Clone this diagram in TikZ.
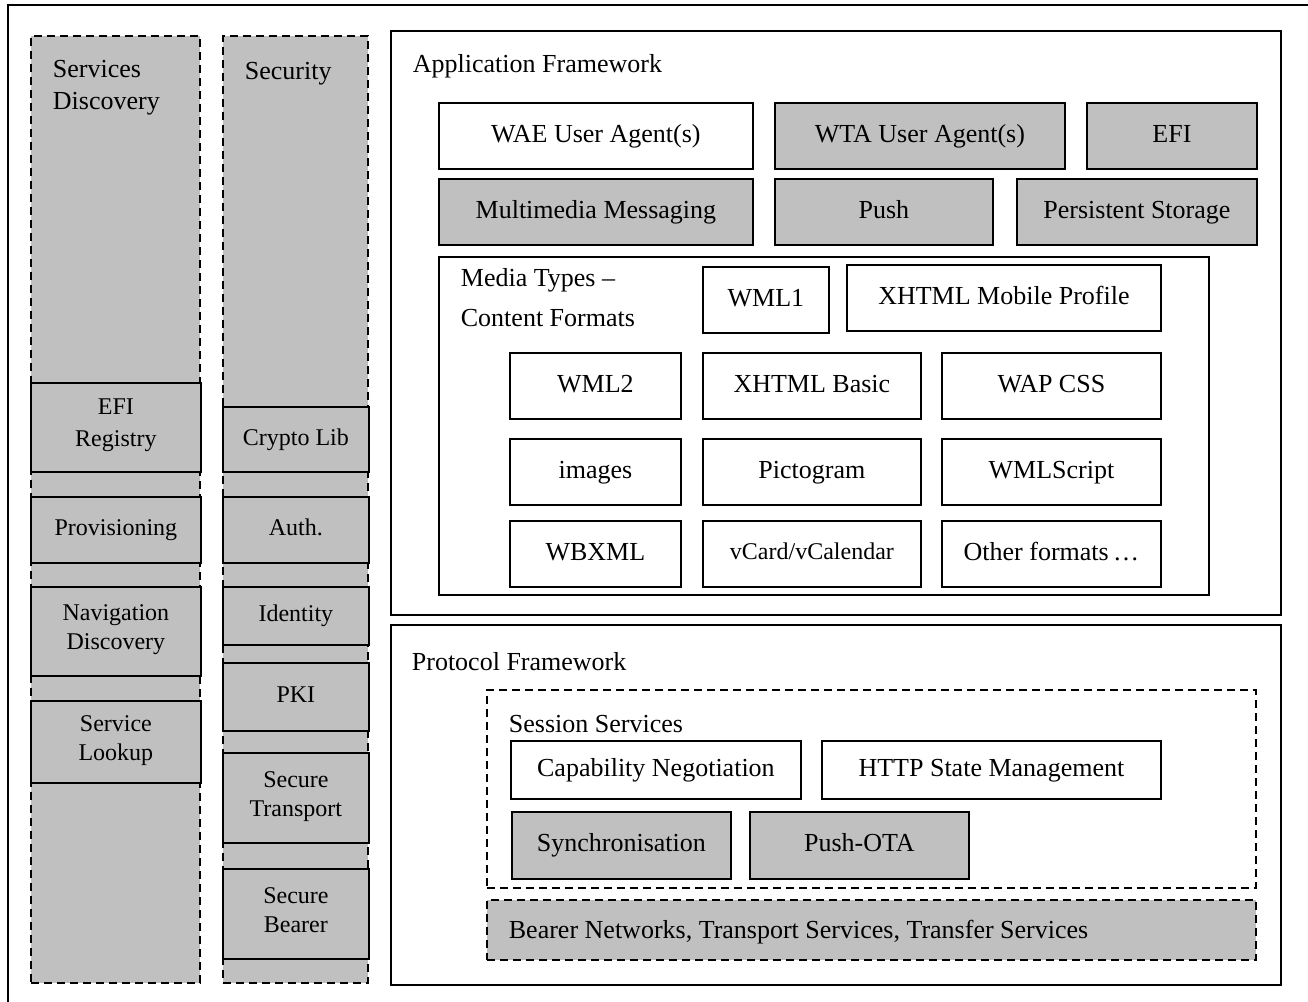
\documentclass[tikz,border=0pt]{standalone}
\usepackage{fontspec}
\setmainfont{Liberation Serif}
\usepackage{tikz}
\definecolor{boxgrey}{RGB}{192,192,192}
\newcommand\bigtxt{\fontsize{26}{32}\selectfont}
\newcommand\smalltxt{\fontsize{24}{29}\selectfont}

\begin{document}
\begin{tikzpicture}[x=1pt, y=-1pt, line width=1.8pt,
		box/.style={draw, anchor=north west, inner sep=0pt, align=center, font=\bigtxt,
			execute at begin node=\strut, execute at end node=\strut},
		grey/.style={fill=boxgrey},
		dashbox/.style={dash pattern=on 8pt off 5pt},
		lbl/.style={anchor=west, inner sep=0pt, align=left, font=\bigtxt}]
			\useasboundingbox (0,0) rectangle (1308,1001);
			\draw (8,5) rectangle (1320,1012);
			% left columns
			\node[box, grey, dashbox, minimum width=169pt, minimum height=947pt] (sdcol) at (30,35) {};
			\node[box, grey, dashbox, minimum width=145pt, minimum height=947pt] (seccol) at (222,35) {};
			\node[lbl] (sdlabel) at (52,88) {Services\\Discovery};
			\node[lbl] (seclabel) at (244,74) {Security};
			\node[box, grey, font=\fontsize{24}{32}\selectfont, minimum width=170pt, minimum height=89pt] (efireg) at (30,382) {EFI\\Registry};
			\node[box, grey, font=\smalltxt, minimum width=170pt, minimum height=66pt] (prov) at (30,496) {Provisioning};
			\node[box, grey, font=\smalltxt, minimum width=170pt, minimum height=89pt] (navdisc) at (30,586) {Navigation\\Discovery};
			\node[box, grey, font=\smalltxt, minimum width=170pt, minimum height=82pt] (svclook) at (30,700) {Service\\Lookup};
			\node[box, grey, font=\smalltxt, minimum width=146pt, minimum height=65pt] (crypto) at (222,406) {Crypto Lib};
			\node[box, grey, font=\smalltxt, minimum width=146pt, minimum height=66pt] (auth) at (222,496) {Auth.};
			\node[box, grey, font=\smalltxt, minimum width=146pt, minimum height=58pt] (ident) at (222,586) {Identity};
			\node[box, grey, font=\smalltxt, minimum width=146pt, minimum height=68pt] (pki) at (222,662) {PKI};
			\node[box, grey, font=\smalltxt, minimum width=146pt, minimum height=90pt] (sectrans) at (222,752) {Secure\\Transport};
			\node[box, grey, font=\smalltxt, minimum width=146pt, minimum height=90pt] (secbear) at (222,868) {Secure\\Bearer};
			% application framework
			\node[box, minimum width=890pt, minimum height=584pt] (appfw) at (390,30) {};
			\node[lbl] (applabel) at (412,66) {Application Framework};
			\node[box, minimum width=314pt, minimum height=66pt] (wae) at (438,102) {WAE User Agent(s)};
			\node[box, grey, minimum width=290pt, minimum height=66pt] (wta) at (774,102) {WTA User Agent(s)};
			\node[box, grey, minimum width=170pt, minimum height=66pt] (efi) at (1086,102) {EFI};
			\node[box, grey, minimum width=314pt, minimum height=66pt] (mms) at (438,178) {Multimedia Messaging};
			\node[box, grey, minimum width=218pt, minimum height=66pt] (push) at (774,178) {Push};
			\node[box, grey, minimum width=240pt, minimum height=66pt] (pstore) at (1016,178) {Persistent Storage};
			\node[box, minimum width=770pt, minimum height=338pt] (media) at (438,256) {};
			\node[lbl, font=\fontsize{26}{40}\selectfont] (medialabel) at (460,298) {Media Types –\\Content Formats};
			\node[box, minimum width=126pt, minimum height=66pt] (wmlone) at (702,266) {WML1};
			\node[box, minimum width=314pt, minimum height=66pt] (xhtmlmp) at (846,264) {XHTML Mobile Profile};
			\node[box, minimum width=171pt, minimum height=66pt] (wmltwo) at (509,352) {WML2};
			\node[box, minimum width=218pt, minimum height=66pt] (xbasic) at (702,352) {XHTML Basic};
			\node[box, minimum width=219pt, minimum height=66pt] (wapcss) at (941,352) {WAP CSS};
			\node[box, minimum width=171pt, minimum height=66pt] (images) at (509,438) {images};
			\node[box, minimum width=218pt, minimum height=66pt] (picto) at (702,438) {Pictogram};
			\node[box, minimum width=219pt, minimum height=66pt] (wmls) at (941,438) {WMLScript};
			\node[box, minimum width=171pt, minimum height=66pt] (wbxml) at (509,520) {WBXML};
			\node[box, font=\smalltxt, minimum width=218pt, minimum height=66pt] (vcard) at (702,520) {vCard/vCalendar};
			\node[box, minimum width=219pt, minimum height=66pt] (other) at (941,520) {Other formats\,…};
			% protocol framework
			\node[box, minimum width=890pt, minimum height=360pt] (protfw) at (390,624) {};
			\node[lbl] (protlabel) at (411,662) {Protocol Framework};
			\node[box, dashbox, minimum width=769pt, minimum height=198pt] (session) at (486,689) {};
			\node[lbl] (seslabel) at (508,724) {Session Services};
			\node[box, minimum width=290pt, minimum height=58pt] (capneg) at (510,740) {Capability Negotiation};
			\node[box, minimum width=339pt, minimum height=58pt] (httpsm) at (821,740) {HTTP State Management};
			\node[box, grey, minimum width=219pt, minimum height=67pt] (sync) at (511,811) {Synchronisation};
			\node[box, grey, minimum width=219pt, minimum height=67pt] (pushota) at (749,811) {Push-OTA};
			\node[box, grey, dashbox, minimum width=769pt, minimum height=60pt] (bearer) at (486,899) {};
			\node[lbl] (bearlabel) at (508,932) {Bearer Networks, Transport Services, Transfer Services};
		\end{tikzpicture}
\end{document}
